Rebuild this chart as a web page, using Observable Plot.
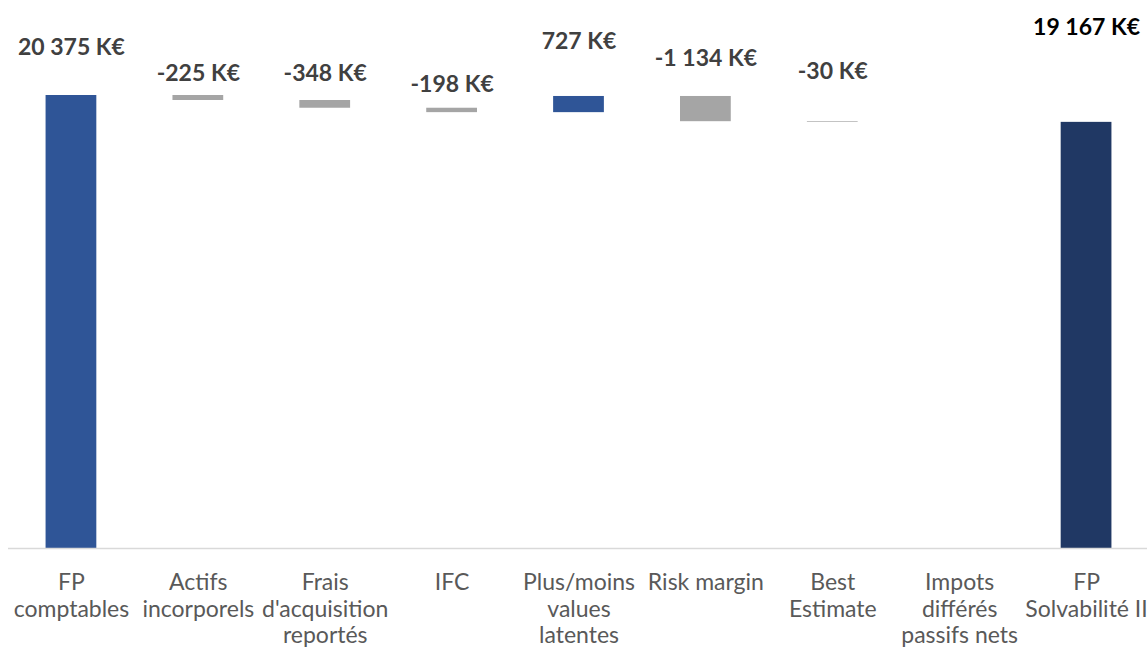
<!DOCTYPE html>
<html>
<head>
<meta charset="utf-8">
<script src="https://cdn.jsdelivr.net/npm/d3@7"></script>
<script src="https://cdn.jsdelivr.net/npm/@observablehq/plot@0.6"></script>
<style>
  html, body { margin: 0; padding: 0; background: #fff; }
  #chart { width: 1147px; height: 649px; overflow: hidden; }
</style>
</head>
<body>
<div id="chart"></div>
<script>
// ---- Data ----
const categories = [
  "FP\ncomptables",
  "Actifs\nincorporels",
  "Frais\nd'acquisition\nreportés",
  "IFC",
  "Plus/moins\nvalues\nlatentes",
  "Risk margin",
  "Best\nEstimate",
  "Impots\ndifférés\npassifs nets",
  "FP\nSolvabilité II"
];
const values = [20375, -225, -348, -198, 727, -1134, -30, 0, 19167];
const kinds = ["total", "delta", "delta", "delta", "delta", "delta", "delta", "delta", "total"];
const valueLabels = ["20 375 K€", "-225 K€", "-348 K€", "-198 K€", "727 K€", "-1 134 K€", "-30 K€", "", "19 167 K€"];

// ---- Build waterfall rows ----
let running = 0;
const rows = categories.map((c, i) => {
  let y1, y2;
  if (kinds[i] === "total") { y1 = 0; y2 = values[i]; running = values[i]; }
  else { y1 = running; y2 = running + values[i]; running = y2; }
  return {category: c, y1, y2, top: Math.max(y1, y2), value: values[i], label: valueLabels[i], kind: kinds[i], i};
});

// ---- Styling ----
const fillFor = d => d.kind === "total" ? (d.i === rows.length - 1 ? "#203864" : "#2F5597")
  : (d.value > 0 ? "#2F5597" : "#A5A5A5");
const labelDy = [-48, -22, -27, -24, -55, -38, -50, 0, -95];

const chart = Plot.plot({
  width: 1147,
  height: 649,
  marginLeft: 8,
  marginRight: 0,
  marginTop: 0,
  marginBottom: 0,
  style: {fontFamily: "Lato, sans-serif", background: "#fff"},
  x: {domain: categories, range: [7.5, 1149.5], paddingInner: 0.6, paddingOuter: 0.3, round: false, axis: null},
  y: {domain: [0, d3.max(rows, d => d.top)], range: [548, 95], axis: null},
  marks: [
    Plot.barY(rows, {x: "category", y1: "y1", y2: "y2", fill: fillFor}),
    Plot.ruleY([0], {stroke: "#D9D9D9", strokeWidth: 1.5}),
    ...rows.map(d => Plot.text([d], {
      x: "category", y: "top", text: "label",
      dy: labelDy[d.i], fontSize: 23, fontWeight: "bold",
      fill: d.i === rows.length - 1 ? "#000000" : "#404040"
    })),
    Plot.text(rows, {
      x: "category", y: () => 0, text: "category",
      lineAnchor: "top", dy: 23, fontSize: 23, lineHeight: 1.15, fill: "#595959"
    })
  ]
});
document.getElementById("chart").appendChild(chart);
</script>
</body>
</html>
